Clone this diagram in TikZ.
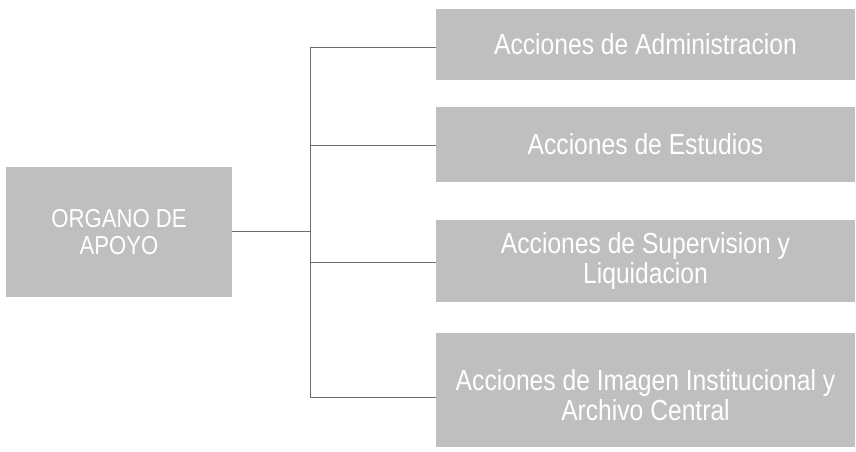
\documentclass[tikz,border=0pt]{standalone}
\usepackage{fontspec}
\setmainfont{Liberation Sans}[FakeStretch=0.85]
\begin{document}
\begin{tikzpicture}[x=1pt,y=-1pt,
  boxfill/.style={fill=gray!50, draw=none, inner sep=0pt, align=center, text=white},
  rbox/.style={boxfill, minimum width=419pt, font=\fontsize{29}{30}\selectfont},
  conn/.style={draw=gray!85!black, line width=0.8pt}]
\useasboundingbox (0,0) rectangle (856,452);
\node[boxfill, minimum width=226pt, minimum height=130pt, font=\fontsize{26}{27}\selectfont] (org) at (119,232) {ORGANO DE\\APOYO};
\node[rbox, minimum height=71pt] (b1) at (645.5,44.5) {Acciones de Administracion};
\node[rbox, minimum height=75pt] (b2) at (645.5,144.5) {Acciones de Estudios};
\node[rbox, minimum height=82pt] (b3) at (645.5,261) {Acciones de Supervision y\\Liquidacion};
\node[rbox, minimum height=114pt] (b4) at (645.5,390) {};
\node[font=\fontsize{29}{30}\selectfont, text=white, align=center, inner sep=0pt] (t4) at (645.5,395) {Acciones de Imagen Institucional y\\Archivo Central};
\coordinate (j0) at (310,231);
\coordinate (j1) at (310,47);
\coordinate (j2) at (310,145);
\coordinate (j3) at (310,262);
\coordinate (j4) at (310,397);
\draw[conn] (org.east |- j0) -- (j0);
\draw[conn] (j1) -- (j4);
\draw[conn] (j1) -- (j1 -| b1.west);
\draw[conn] (j2) -- (j2 -| b2.west);
\draw[conn] (j3) -- (j3 -| b3.west);
\draw[conn] (j4) -- (j4 -| b4.west);
\end{tikzpicture}
\end{document}
